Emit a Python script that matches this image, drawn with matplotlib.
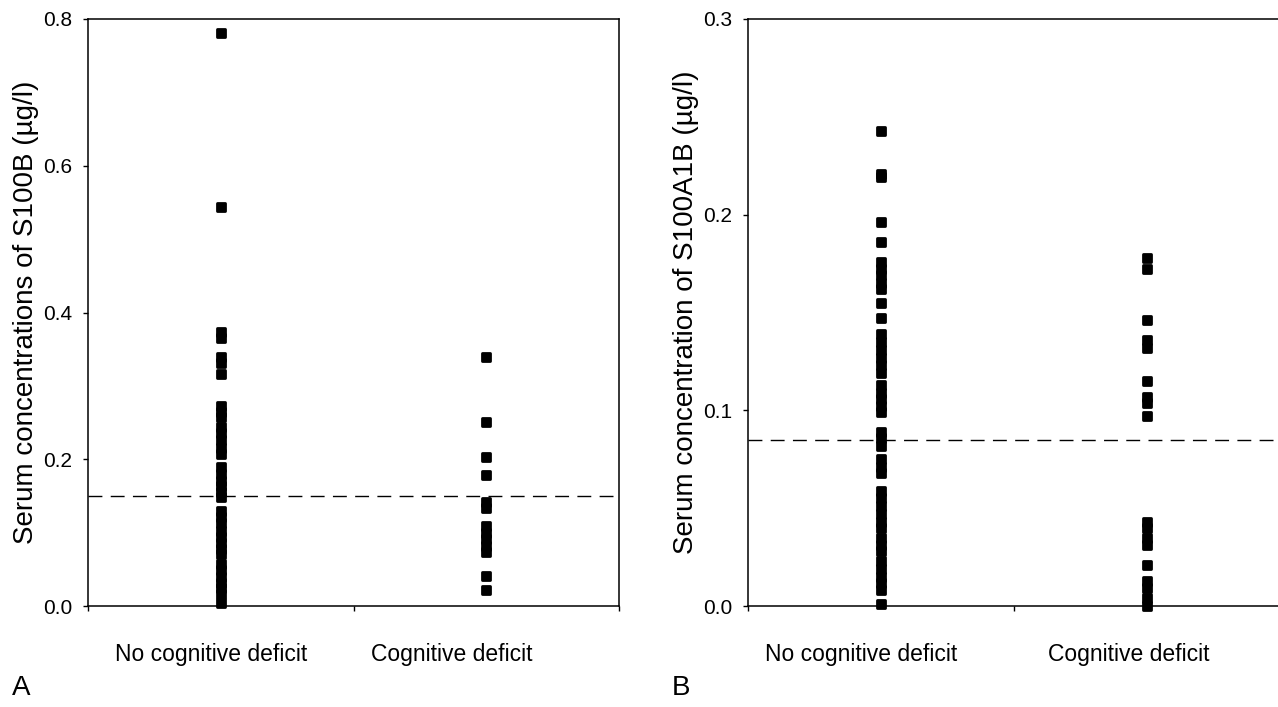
import numpy as np, matplotlib
matplotlib.use("Agg"); import matplotlib.pyplot as plt
from matplotlib.markers import MarkerStyle
from matplotlib.transforms import blended_transform_factory as blend
plt.rcParams.update({"font.family":["Liberation Sans","DejaVu Sans"],"axes.linewidth":1.1,
                     "xtick.direction":"out","ytick.direction":"out","xtick.major.size":3.5,"ytick.major.size":3.5,
                     "xtick.major.width":1.0,"ytick.major.width":1.0,"ytick.major.pad":8})

groups=["No cognitive deficit","Cognitive deficit"]
# panel A: S100B (ug/l)
a_nodef=[0.781,0.544,0.373,0.365,0.339,0.331,0.316,0.272,0.265,0.257,0.244,0.236,0.226,0.216,0.207,
         0.189,0.180,0.171,0.163,0.155,0.148,0.129,0.121,0.113,0.102,0.094,0.086,0.078,0.071,
         0.057,0.049,0.040,0.032,0.024,0.017,0.004]
a_def=[0.340,0.251,0.203,0.179,0.142,0.133,0.109,0.100,0.091,0.082,0.073,0.041,0.022]
a_cut=0.15
# panel B: S100A1B (ug/l)
b_nodef=[0.243,0.221,0.219,0.196,0.186,0.176,0.172,0.169,0.165,0.162,0.155,0.147,0.139,0.135,0.131,
         0.127,0.123,0.119,0.113,0.109,0.106,0.102,0.099,0.089,0.086,0.082,0.075,0.071,0.068,
         0.059,0.055,0.051,0.047,0.043,0.040,0.035,0.031,0.028,0.023,0.019,0.015,0.012,0.008,0.001]
b_def=[0.178,0.172,0.146,0.136,0.132,0.115,0.107,0.104,0.097,0.043,0.040,0.035,0.031,0.021,0.013,0.009,0.004,0.000]
b_cut=0.085

fig=plt.figure(figsize=(12.78,7.07),dpi=100)
axA=fig.add_axes([88/1278,1-606/707,531/1278,587/707])
axB=fig.add_axes([748/1278,1-606/707,532/1278,587/707])
mk=MarkerStyle("s",joinstyle="round")

def panel(ax,nodef,defi,cut,ymax,yt,ylab,lab_x):
    for xpos,vals in [(1,nodef),(3,defi)]:
        ax.plot(np.full(len(vals),xpos),vals,ls="none",marker=mk,ms=5.4,mew=2.0,color="black",clip_on=False,zorder=3)
    ax.axhline(cut,color="black",lw=1.0,dashes=(10,6))
    ax.set_xlim(0,4); ax.set_ylim(0,ymax)
    ax.set_xticks([0,2,4]); ax.set_xticklabels([])
    ax.set_yticks(yt); ax.set_yticklabels(["%.1f"%v for v in yt],fontsize=15)
    ax.set_ylabel(ylab,fontsize=20,labelpad=3)
    tr=blend(ax.transData,ax.transAxes)
    for x,g in zip(lab_x,groups):
        ax.text(x,-0.083,g,transform=tr,ha="center",va="center",fontsize=16.5)

panel(axA,a_nodef,a_def,a_cut,0.8,[0.0,0.2,0.4,0.6,0.8],"Serum concentrations of S100B (\u00b5g/l)",[0.93,2.74])
panel(axB,b_nodef,b_def,b_cut,0.3,[0.0,0.1,0.2,0.3],"Serum concentration of S100A1B (\u00b5g/l)",[0.85,2.86])
fig.text(21/1278,1-688/707,"A",fontsize=20,ha="center",va="center")
fig.text(681/1278,1-688/707,"B",fontsize=20,ha="center",va="center")
fig.savefig("out.png",dpi=100)
